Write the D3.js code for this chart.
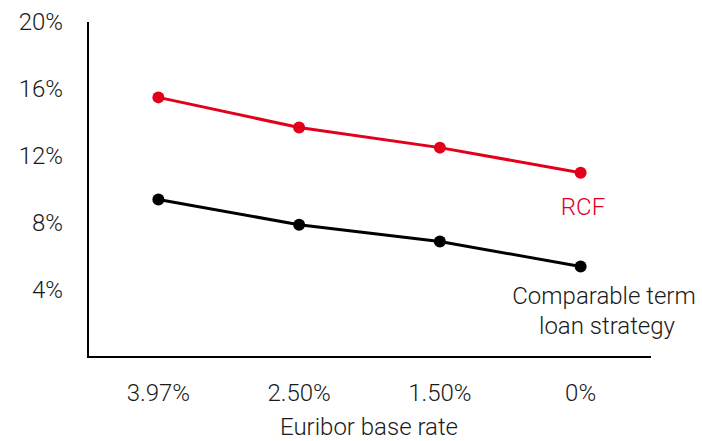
<!DOCTYPE html>
<html lang="en">
<head>
	<meta charset="utf-8">
	<title>RCF vs term loan</title>
	<script src="https://d3js.org/d3.v7.min.js"></script>
	<style>
	body { margin: 0; background: #fff; }
	text { font-family: Roboto, "Liberation Sans", sans-serif; font-weight: 300; fill: #1a1a1a; font-size: 24px; }
	</style>
</head>
<body>
	<script>
		// data
		var categories = ["3.97%", "2.50%", "1.50%", "0%"];
		var rcf = [15.5, 13.7, 12.5, 11.0];
		var termLoan = [9.4, 7.9, 6.9, 5.4];
		var yTicks = [4, 8, 12, 16, 20];

		var w = 703, h = 441;
		var margin = {left: 88, right: 52, top: 22, bottom: 84};

		var svg = d3.select("body").append("svg")
			.attr("width", w)
			.attr("height", h);

		var x = d3.scaleBand()
			.domain(categories)
			.range([margin.left, w - margin.right]);

		var y = d3.scaleLinear()
			.domain([0, 20])
			.range([h - margin.bottom, margin.top]);

		// axes lines
		svg.append("line")
			.attr("x1", margin.left).attr("x2", margin.left)
			.attr("y1", y(20)).attr("y2", y(0))
			.attr("stroke", "#000").attr("stroke-width", 2);
		svg.append("line")
			.attr("x1", margin.left - 1).attr("x2", w - margin.right)
			.attr("y1", y(0)).attr("y2", y(0))
			.attr("stroke", "#000").attr("stroke-width", 2);

		// y labels
		svg.selectAll(".ylab")
			.data(yTicks)
		  .enter().append("text")
			.attr("class", "ylab")
			.attr("x", 63)
			.attr("y", function(d) { return y(d); })
			.attr("dy", "0.35em")
			.attr("text-anchor", "end")
			.text(function(d) { return d + "%"; });

		// x labels
		svg.selectAll(".xlab")
			.data(categories)
		  .enter().append("text")
			.attr("class", "xlab")
			.attr("x", function(d) { return x(d) + x.bandwidth() / 2; })
			.attr("y", 401)
			.attr("text-anchor", "middle")
			.text(function(d) { return d; });

		svg.append("text")
			.attr("x", 369)
			.attr("y", 435)
			.attr("text-anchor", "middle")
			.text("Euribor base rate");

		var line = d3.line()
			.x(function(d, i) { return x(categories[i]) + x.bandwidth() / 2; })
			.y(function(d) { return y(d); });

		var series = [
			{values: termLoan, color: "#000000"},
			{values: rcf, color: "#e2001a"}
		];

		series.forEach(function(s) {
			svg.append("path")
				.datum(s.values)
				.attr("fill", "none")
				.attr("stroke", s.color)
				.attr("stroke-width", 3)
				.attr("d", line);

			svg.selectAll(null)
				.data(s.values)
			  .enter().append("circle")
				.attr("cx", function(d, i) { return x(categories[i]) + x.bandwidth() / 2; })
				.attr("cy", function(d) { return y(d); })
				.attr("r", 6)
				.attr("fill", s.color);
		});

		// series labels
		svg.append("text")
			.attr("x", 583)
			.attr("y", 215)
			.attr("text-anchor", "middle")
			.style("fill", "#e2001a")
			.text("RCF");

		svg.append("text")
			.attr("x", 604)
			.attr("y", 304)
			.attr("text-anchor", "middle")
			.text("Comparable term");
		svg.append("text")
			.attr("x", 607)
			.attr("y", 334)
			.attr("text-anchor", "middle")
			.text("loan strategy");
	</script>
</body>
</html>
